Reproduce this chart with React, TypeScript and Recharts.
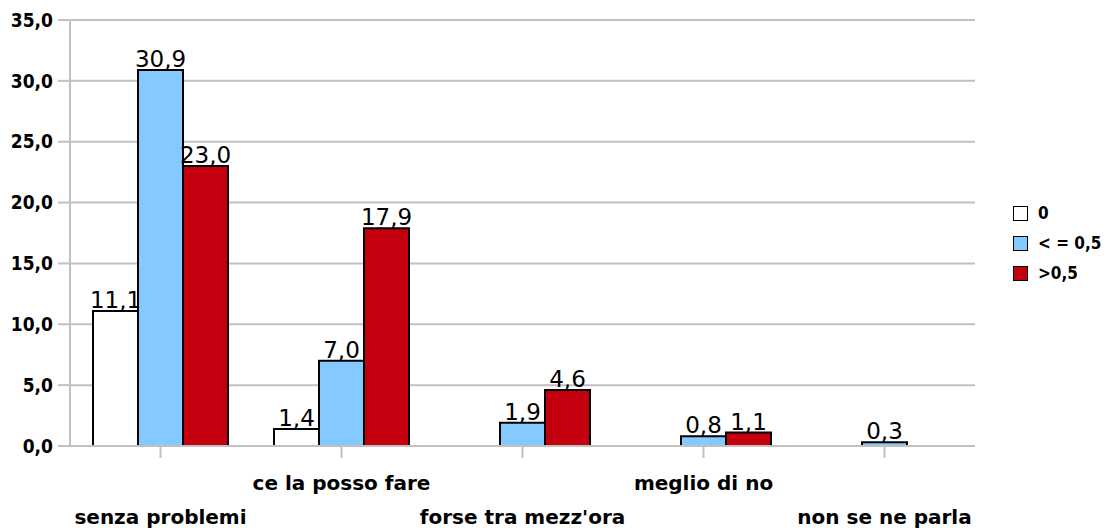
import { BarChart, Bar, XAxis, YAxis, CartesianGrid, LabelList } from 'recharts';

const categories = ['senza problemi', 'ce la posso fare', "forse tra mezz'ora", 'meglio di no', 'non se ne parla'];
const seriesZero = [11.1, 1.4, null, null, null];
const seriesLow = [30.9, 7.0, 1.9, 0.8, 0.3];
const seriesHigh = [23.0, 17.9, 4.6, 1.1, null];
const yTicks = [0, 5, 10, 15, 20, 25, 30, 35];

const series = [
  { key: 'zero', name: '0', color: '#ffffff' },
  { key: 'low', name: '< = 0,5', color: '#84c9ff' },
  { key: 'high', name: '>0,5', color: '#c4000e' },
];

const data = categories.map((c, i) => ({
  name: c,
  zero: seriesZero[i],
  low: seriesLow[i],
  high: seriesHigh[i],
}));

const font = '"DejaVu Sans", sans-serif';
const fmt = (v: any) => (v == null ? '' : Number(v).toFixed(1).replace('.', ','));

const XTick = (props: any) => {
  const { x, y, payload, index } = props;
  const dy = index % 2 === 0 ? 64 : 30;
  return (
    <text x={x} y={y + dy} textAnchor="middle" fontFamily={font} fontWeight="bold" fontSize={20} fill="#000">
      {payload.value}
    </text>
  );
};

const ChartLegend = () => (
  <div
    style={{
      position: 'absolute',
      left: 1013,
      top: 198,
      fontFamily: font,
      fontWeight: 'bold',
      fontSize: 17,
      fontStretch: 'condensed',
    }}
  >
    {series.map((s) => (
      <div key={s.key} style={{ display: 'flex', alignItems: 'center', height: 30, whiteSpace: 'nowrap' }}>
        <div style={{ width: 13, height: 13, background: s.color, border: '1.5px solid #000', marginRight: 10 }} />
        <span>{s.name}</span>
      </div>
    ))}
  </div>
);

export default function App() {
  return (
    <div style={{ position: 'absolute', left: 0, top: 0, width: 1109, height: 528, background: '#fff' }}>
      <BarChart
        width={1109}
        height={528}
        data={data}
        margin={{ top: 20, right: 134, bottom: 0, left: 0 }}
        barGap={0}
        barCategoryGap={23}
      >
        <CartesianGrid vertical={false} stroke="#c0c0c0" strokeWidth={2} yAxisId="left" />
        <XAxis
          dataKey="name"
          tick={<XTick />}
          interval={0}
          tickSize={12}
          tickLine={{ stroke: '#c0c0c0', strokeWidth: 2 }}
          axisLine={{ stroke: '#c0c0c0', strokeWidth: 2 }}
          height={82}
        />
        <YAxis
          yAxisId="left"
          domain={[0, 35]}
          ticks={yTicks}
          tickFormatter={fmt}
          width={70}
          tickSize={12}
          tickMargin={5}
          tickLine={{ stroke: '#c0c0c0', strokeWidth: 2 }}
          axisLine={{ stroke: '#c0c0c0', strokeWidth: 2 }}
          tick={{ fill: '#000', fontFamily: font, fontWeight: 'bold', fontSize: 19, style: { fontStretch: 'condensed' } }}
          interval={0}
        />
        <YAxis
          yAxisId="right"
          orientation="right"
          domain={[0, 35]}
          width={0}
          tick={false}
          tickLine={false}
          axisLine={{ stroke: '#c0c0c0', strokeWidth: 2 }}
        />
        {series.map((s) => (
          <Bar
            key={s.key}
            yAxisId="left"
            dataKey={s.key}
            name={s.name}
            fill={s.color}
            stroke="#000"
            strokeWidth={2}
            isAnimationActive={false}
          >
            <LabelList
              dataKey={s.key}
              position="top"
              formatter={fmt}
              offset={3}
              style={{ fill: '#000', fontFamily: font, fontSize: 23 }}
            />
          </Bar>
        ))}
      </BarChart>
      <ChartLegend />
    </div>
  );
}
